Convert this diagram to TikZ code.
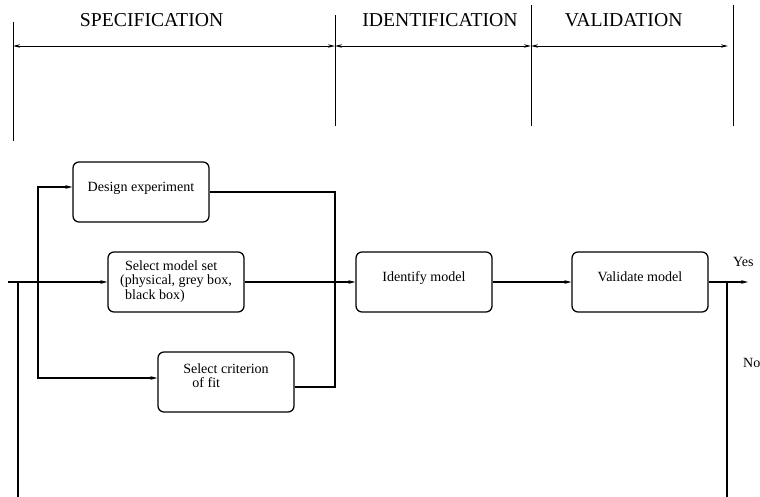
\documentclass[tikz,border=0pt]{standalone}
\usepackage{fontspec}
\setmainfont{Liberation Serif}
\usetikzlibrary{arrows.meta, positioning, calc}
\tikzstyle{stepbox} = [rectangle, rounded corners=0.15cm, minimum width=3.4cm, minimum height=1.5cm, draw=black, line width=0.9pt, inner sep=0pt, font=\fontsize{10}{10.5}\selectfont]
\tikzstyle{phase} = [font=\fontsize{14}{16}\selectfont]
\tikzstyle{divider} = [line width=0.5pt]
\tikzstyle{span} = [line width=0.5pt, <->, >={Stealth[length=5pt,width=2.4pt]}]
\tikzstyle{line} = [line width=0.9pt]
\tikzstyle{arrow} = [line width=0.9pt, ->, >={Stealth[length=5pt,width=2.6pt]}]
\tikzstyle{answer} = [font=\fontsize{10}{12}\selectfont]

\begin{document}
\begin{tikzpicture}[node distance=5.4cm]
        \useasboundingbox (0,0) rectangle (19,-12.425);
        % phases along the top
        \node (spec) [phase] at (3.79,-0.5) {SPECIFICATION};
        \node (idph) [phase] at (11.0,-0.5) {IDENTIFICATION};
        \node (valph) [phase] at (15.59,-0.5) {VALIDATION};
        \coordinate (d0top) at (0.325,-0.55);
        \coordinate (d0bot) at (0.325,-3.525);
        \coordinate (d1top) at (8.375,-0.375);
        \coordinate (d1bot) at (8.375,-3.15);
        \coordinate (d2top) at (13.275,-0.125);
        \coordinate (d2bot) at (13.275,-3.15);
        \coordinate (d3top) at (18.325,-0.125);
        \coordinate (d3bot) at (18.325,-3.15);
        \draw [divider] (d0top) -- (d0bot);
        \draw [divider] (d1top) -- (d1bot);
        \draw [divider] (d2top) -- (d2bot);
        \draw [divider] (d3top) -- (d3bot);
        \coordinate (h0) at (0.325,-1.15);
        \coordinate (h1) at (8.375,-1.15);
        \coordinate (h2) at (13.275,-1.15);
        \coordinate (h3) at (18.2,-1.15);
        \draw [span] (h0) -- (h1);
        \draw [span] (h1) -- (h2);
        \draw [span] (h2) -- (h3);

        % blocks
        \node (model) [stepbox, align=left, text depth=0.1cm] at (4.4,-7.05) {\hspace*{3.5pt}Select model set\\(physical, grey box,\\\hspace*{3.5pt}black box)};
        \node (design) [stepbox, above of=model, node distance=2.25cm, xshift=-0.875cm, text depth=0.26cm] {Design experiment};
        \node (crit) [stepbox, below of=model, node distance=2.5cm, xshift=1.25cm, align=left, text depth=0.32cm, font=\fontsize{10}{9.5}\selectfont] {Select criterion\\\hspace*{6.5pt}of fit};
        \node (ident) [stepbox, right of=model, xshift=0.8cm, text depth=0.26cm] {Identify model};
        \node (valid) [stepbox, right of=ident, text depth=0.26cm] {Validate model};

        % feed and branches
        \coordinate (in) at (0.2,-7.05);
        \coordinate (fork) at (0.45,-7.05);
        \coordinate (forkdown) at (0.45,-12.425);
        \coordinate (split) at (0.95,-7.05);
        \coordinate (merge) at (8.375,-7.05);
        \draw [arrow] (in) -- (model);
        \draw [line] (fork) -- (forkdown);
        \draw [arrow] (split) |- ($(design.west)+(0,0.125)$);
        \draw [arrow] (split) |- ($(crit.west)+(0,0.1)$);
        \draw [line] (design.east) -| (merge);
        \draw [line] ($(crit.east)+(0,-0.125)$) -| (merge);
        \draw [arrow] (model) -- (ident);
        \draw [arrow] (ident) -- (valid);

        % decision
        \coordinate (out) at (18.7,-7.05);
        \coordinate (branch) at (18.175,-7.05);
        \coordinate (branchdown) at (18.175,-12.425);
        \draw [arrow] (valid) -- node[answer, above=0.25cm, pos=0.88] {Yes} (out);
        \draw [line] (branch) -- node[answer, right=0.27cm, pos=0.377] {No} (branchdown);
\end{tikzpicture}
\end{document}
